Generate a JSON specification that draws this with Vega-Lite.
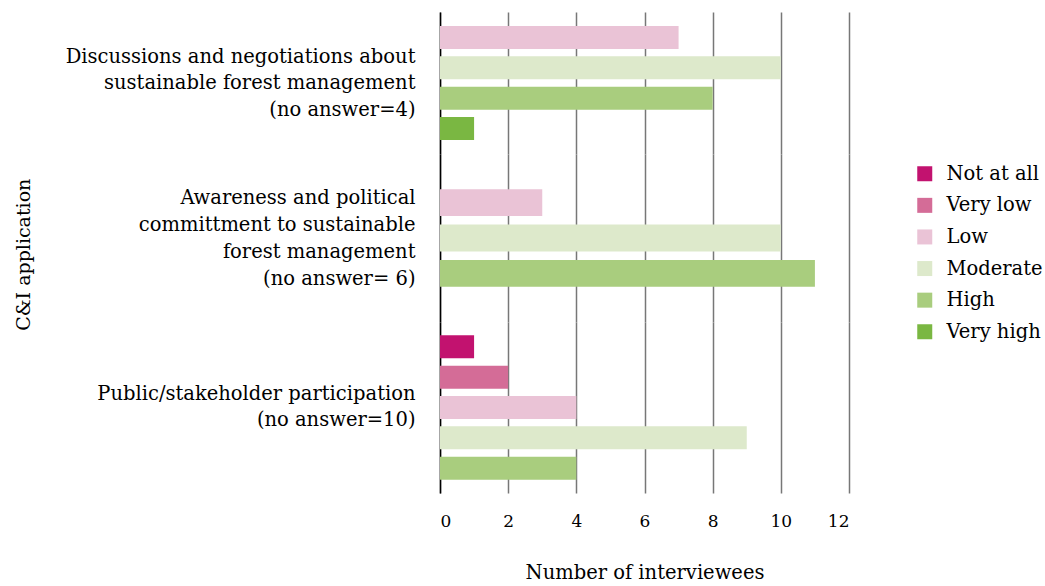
{
  "$schema": "https://vega.github.io/schema/vega-lite/v6.json",
  "padding": {"left": 15, "top": 12, "right": 5, "bottom": 5},
  "bounds": "flush",
  "spacing": 0,
  "config": {
    "font": "DejaVu Serif",
    "view": {"stroke": null},
    "axis": {"labelColor": "#000", "titleColor": "#000", "titleFontWeight": "normal"},
    "legend": {"labelColor": "#000"}
  },
  "title": {"text": "C&I application", "orient": "left", "anchor": "middle", "fontSize": 19, "fontWeight": "normal", "color": "#000", "offset": 31, "dx": 42},
  "data": {
    "values": [
      {"category": "Discussions", "level": "Low", "count": 7},
      {"category": "Discussions", "level": "Moderate", "count": 10},
      {"category": "Discussions", "level": "High", "count": 8},
      {"category": "Discussions", "level": "Very high", "count": 1},
      {"category": "Awareness", "level": "Low", "count": 3},
      {"category": "Awareness", "level": "Moderate", "count": 10},
      {"category": "Awareness", "level": "High", "count": 11},
      {"category": "Public", "level": "Not at all", "count": 1},
      {"category": "Public", "level": "Very low", "count": 2},
      {"category": "Public", "level": "Low", "count": 4},
      {"category": "Public", "level": "Moderate", "count": 9},
      {"category": "Public", "level": "High", "count": 4}
    ]
  },
  "resolve": {"scale": {"x": "shared", "y": "independent", "color": "independent"}, "legend": {"color": "independent"}},
  "vconcat": [
    {
      "width": 409,
      "height": 142,
      "transform": [{"filter": "datum.category === 'Discussions'"}],
      "mark": {"type": "bar"},
      "encoding": {
        "x": {"field": "count", "type": "quantitative", "scale": {"domain": [0, 12], "nice": false},
              "axis": {"values": [0, 2, 4, 6, 8, 10, 12], "labels": false, "ticks": false, "domain": false, "title": null, "grid": true, "gridColor": "#777", "gridWidth": 1.5}},
        "y": {"field": "level", "type": "nominal",
              "scale": {"domain": ["Low", "Moderate", "High", "Very high"], "paddingInner": 0.242, "paddingOuter": 0.46},
              "axis": {"title": ["Discussions and negotiations about", "sustainable forest management", "(no answer=4)"], "labels": false, "ticks": false, "domain": true, "domainColor": "#000", "domainWidth": 1.5, "titleAngle": 0, "titleAlign": "right", "titleBaseline": "middle", "titleX": -25, "titleY": 44, "titleFontSize": 19.5, "titleLineHeight": 26.5}},
        "color": {"field": "level", "type": "nominal",
                  "scale": {"domain": ["Not at all", "Very low", "Low", "Moderate", "High", "Very high"], "range": ["#c2126f", "#d46c97", "#eac3d6", "#dde9cb", "#a9cd7e", "#7ab742"]},
                  "legend": null}
      }
    },
    {
      "width": 409,
      "height": 168,
      "transform": [{"filter": "datum.category === 'Awareness'"}],
      "mark": {"type": "bar"},
      "encoding": {
        "x": {"field": "count", "type": "quantitative", "scale": {"domain": [0, 12], "nice": false},
              "axis": {"values": [0, 2, 4, 6, 8, 10, 12], "labels": false, "ticks": false, "domain": false, "title": null, "grid": true, "gridColor": "#777", "gridWidth": 1.5}},
        "y": {"field": "level", "type": "nominal",
              "scale": {"domain": ["Low", "Moderate", "High"], "paddingInner": 0.242, "paddingOuter": 1.39},
              "axis": {"title": ["Awareness and political", "committment to sustainable", "forest management", "(no answer= 6)"], "labels": false, "ticks": false, "domain": true, "domainColor": "#000", "domainWidth": 1.5, "titleAngle": 0, "titleAlign": "right", "titleBaseline": "middle", "titleX": -25, "titleY": 43, "titleFontSize": 19.5, "titleLineHeight": 27}},
        "color": {"field": "level", "type": "nominal",
                  "scale": {"domain": ["Not at all", "Very low", "Low", "Moderate", "High", "Very high"], "range": ["#c2126f", "#d46c97", "#eac3d6", "#dde9cb", "#a9cd7e", "#7ab742"]},
                  "legend": {"title": null, "orient": "right", "offset": 56, "padding": 10, "symbolType": "square", "symbolSize": 225, "symbolStrokeWidth": 0, "labelFontSize": 19.5, "labelOffset": 12, "rowPadding": 10.6}}
      }
    },
    {
      "width": 409,
      "height": 171,
      "transform": [{"filter": "datum.category === 'Public'"}],
      "mark": {"type": "bar"},
      "encoding": {
        "x": {"field": "count", "type": "quantitative", "scale": {"domain": [0, 12], "nice": false},
              "axis": {"values": [0, 2, 4, 6, 8, 10, 12], "labels": true, "ticks": false, "domain": false, "title": "Number of interviewees", "grid": true, "gridColor": "#777", "gridWidth": 1.5, "labelFontSize": 17, "labelPadding": 20, "titleFontSize": 19.5, "titlePadding": 34}},
        "y": {"field": "level", "type": "nominal",
              "scale": {"domain": ["Not at all", "Very low", "Low", "Moderate", "High"], "paddingInner": 0.242, "paddingOuter": 0.44},
              "axis": {"title": ["Public/stakeholder participation", "(no answer=10)"], "labels": false, "ticks": false, "domain": true, "domainColor": "#000", "domainWidth": 1.5, "titleAngle": 0, "titleAlign": "right", "titleBaseline": "middle", "titleX": -25, "titleY": 71, "titleFontSize": 19.5, "titleLineHeight": 26.5}},
        "color": {"field": "level", "type": "nominal",
                  "scale": {"domain": ["Not at all", "Very low", "Low", "Moderate", "High", "Very high"], "range": ["#c2126f", "#d46c97", "#eac3d6", "#dde9cb", "#a9cd7e", "#7ab742"]},
                  "legend": null}
      }
    }
  ]
}
